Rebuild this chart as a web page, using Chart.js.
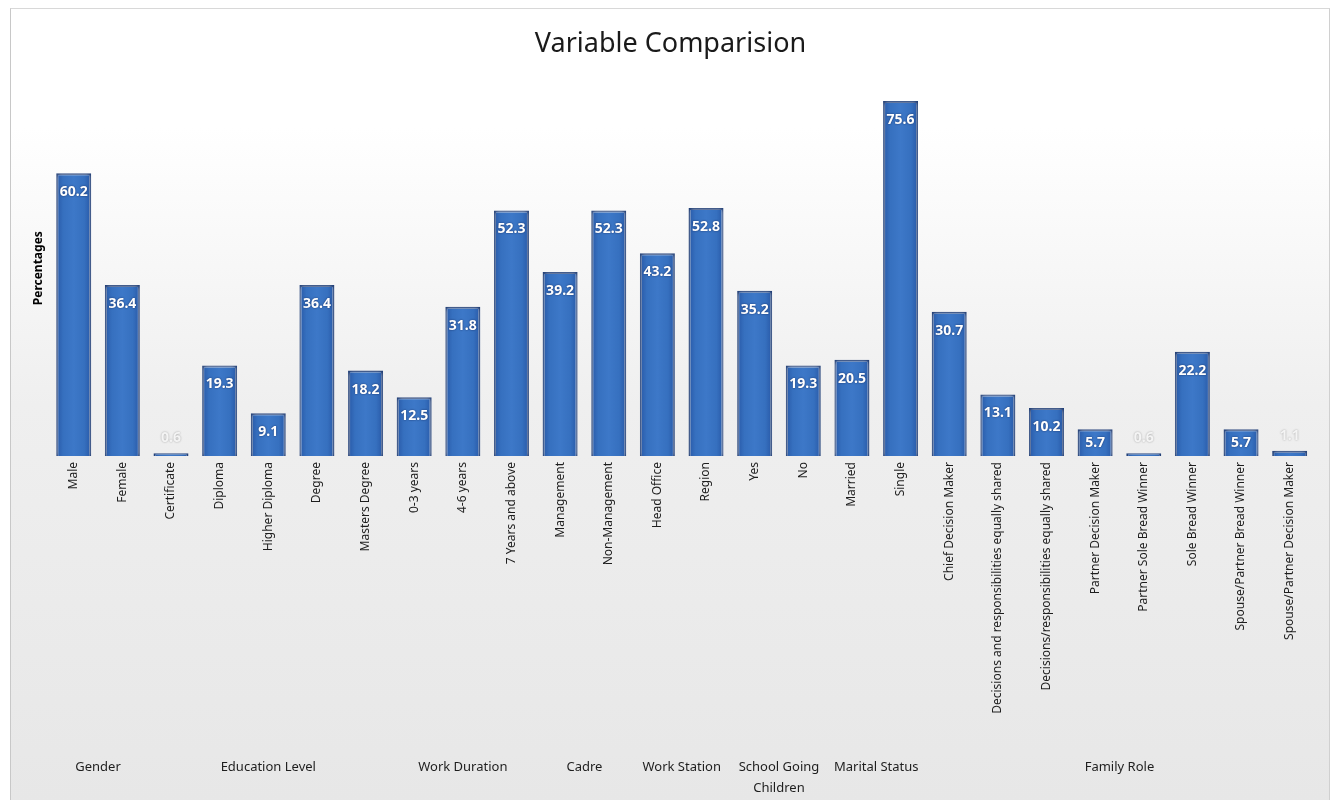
<!DOCTYPE html>
<html>
<head>
<meta charset="utf-8">
<title>Variable Comparision</title>
<script src="https://cdn.jsdelivr.net/npm/chart.js@4.4.1/dist/chart.umd.min.js"></script>
<style>
  html, body { margin: 0; padding: 0; background: #fff; }
  #wrap {
    position: absolute; left: 10px; top: 8px; width: 1318px; height: 792px;
    border-left: 1px solid #c8c8c8; border-top: 1px solid #d8d8d8; border-right: 1px solid #d0d0d0;
    background: linear-gradient(#ffffff 0%, #ffffff 15%, #efefef 50%, #e7e7e7 100%);
  }
</style>
</head>
<body>
<div id="wrap"><canvas id="chart" width="1318" height="792"></canvas></div>
<script>
// category labels (one per bar)
const categories = [
    'Male', 'Female',
    'Certificate', 'Diploma', 'Higher Diploma', 'Degree', 'Masters Degree',
    '0-3 years', '4-6 years', '7 Years and above',
    'Management', 'Non-Management',
    'Head Office', 'Region',
    'Yes', 'No',
    'Married', 'Single',
    'Chief Decision Maker', 'Decisions and responsibilities equally shared',
    'Decisions/responsibilities equally shared', 'Partner Decision Maker',
    'Partner Sole Bread Winner', 'Sole Bread Winner',
    'Spouse/Partner Bread Winner', 'Spouse/Partner Decision Maker'
];

// percentages
const percentages = [
    60.2, 36.4,
    0.6, 19.3, 9.1, 36.4, 18.2,
    12.5, 31.8, 52.3,
    39.2, 52.3,
    43.2, 52.8,
    35.2, 19.3,
    20.5, 75.6,
    30.7, 13.1, 10.2, 5.7, 0.6, 22.2, 5.7, 1.1
];

// groups shown under the rotated labels
const groupNames = ['Gender', 'Education Level', 'Work Duration', 'Cadre', 'Work Station',
    ['School Going', 'Children'], 'Marital Status', 'Family Role'];
const groupSizes = [2, 5, 3, 2, 2, 2, 2, 8];

// bar shading: darker edges, lighter middle + white glow
const barShade = {
    id: 'barShade',
    beforeDatasetsDraw(chart) {
        const ctx = chart.ctx;
        chart.getDatasetMeta(0).data.forEach(bar => {
            const g = ctx.createLinearGradient(bar.x - bar.width / 2, 0, bar.x + bar.width / 2, 0);
            g.addColorStop(0, '#2858a6');
            g.addColorStop(0.2, '#3670bf');
            g.addColorStop(0.5, '#3d78c8');
            g.addColorStop(0.8, '#3670bf');
            g.addColorStop(1, '#2858a6');
            bar.options.backgroundColor = g;
        });
        ctx.save();
        ctx.shadowColor = 'rgba(255,255,255,0.8)';
        ctx.shadowBlur = 4;
    },
    afterDatasetsDraw(chart) {
        chart.ctx.restore();
    }
};

// value labels on the bars
const valueLabels = {
    id: 'valueLabels',
    afterDatasetsDraw(chart) {
        const ctx = chart.ctx;
        const meta = chart.getDatasetMeta(0);
        ctx.save();
        ctx.font = 'bold 14px "Noto Sans"';
        ctx.textAlign = 'center';
        ctx.textBaseline = 'middle';
        meta.data.forEach((bar, i) => {
            const h = bar.base - bar.y;
            let y;
            if (h < 18) {
                y = bar.y - 15;
                ctx.shadowColor = 'rgba(0,0,0,0.35)';
                ctx.shadowBlur = 2;
                ctx.fillStyle = '#f4f4f4';
            } else {
                y = bar.y + Math.min(19, h / 2);
                ctx.shadowColor = 'rgba(0,0,40,0.6)';
                ctx.shadowBlur = 2;
                ctx.fillStyle = '#ffffff';
            }
            ctx.fillText(percentages[i].toFixed(1), bar.x, y);
        });
        ctx.restore();
    }
};

// group labels under the category labels
const groupLabels = {
    id: 'groupLabels',
    afterDraw(chart) {
        const ctx = chart.ctx;
        const x = chart.scales.x;
        ctx.save();
        ctx.font = '13px "Noto Sans"';
        ctx.fillStyle = '#1e1e1e';
        ctx.textAlign = 'center';
        ctx.textBaseline = 'middle';
        let start = 0;
        groupNames.forEach((name, g) => {
            const end = start + groupSizes[g] - 1;
            const cx = (x.getPixelForValue(start) + x.getPixelForValue(end)) / 2;
            const lines = Array.isArray(name) ? name : [name];
            lines.forEach((line, k) => ctx.fillText(line, cx, 758 + k * 21));
            start = end + 1;
        });
        ctx.restore();
    }
};

new Chart(document.getElementById('chart'), {
    type: 'bar',
    data: {
        labels: categories,
        datasets: [{
            label: 'Percentages',
            data: percentages,
            // scriptable so every bar keeps its own options object
            backgroundColor: () => '#3a70bf',
            borderColor: '#173670',
            borderWidth: 2,
            barPercentage: 0.72,
            categoryPercentage: 1
        }]
    },
    options: {
        responsive: false,
        animation: false,
        layout: { padding: { left: 16, right: 15, top: 0, bottom: 0 } },
        plugins: {
            legend: { display: false },
            tooltip: { enabled: false },
            title: {
                display: true,
                text: 'Variable Comparision',
                color: '#1a1a1a',
                font: { family: 'Noto Sans', size: 27, weight: 'normal' },
                padding: { top: 19, bottom: 20 }
            }
        },
        scales: {
            x: {
                grid: { display: false, drawTicks: false },
                border: { display: false },
                ticks: {
                    autoSkip: false,
                    maxRotation: 90,
                    minRotation: 90,
                    padding: 6,
                    color: '#1e1e1e',
                    font: { family: 'Noto Sans', size: 12 }
                },
                afterFit(axis) {
                    axis.height = 345;
                    axis.paddingLeft = 0;
                    axis.paddingRight = 0;
                }
            },
            y: {
                min: 0,
                max: 80,
                grid: { display: false, drawTicks: false },
                border: { display: false },
                ticks: { display: false },
                title: {
                    display: true,
                    text: 'Percentages',
                    color: '#000',
                    font: { family: 'Noto Sans', size: 12, weight: 'bold' },
                    padding: { top: 4, bottom: 4 }
                }
            }
        }
    },
    plugins: [barShade, valueLabels, groupLabels]
});
</script>
</body>
</html>
